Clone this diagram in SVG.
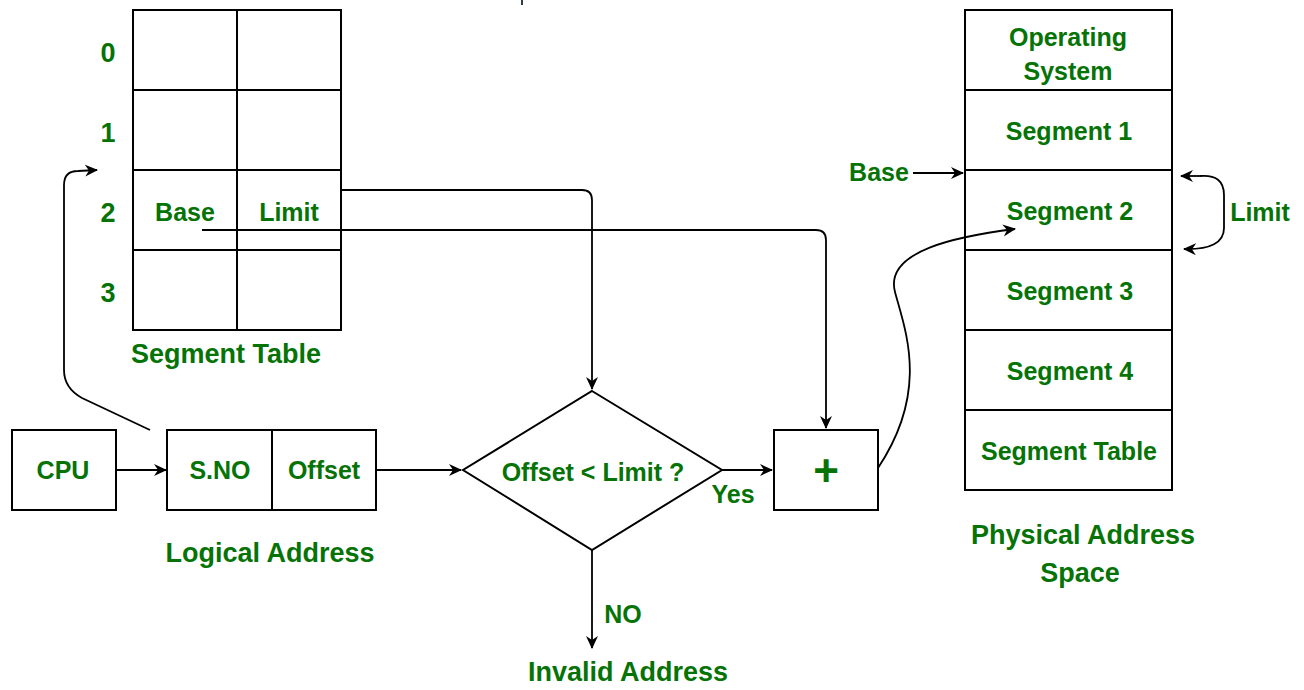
<svg xmlns="http://www.w3.org/2000/svg" width="1304" height="690" viewBox="0 0 1304 690">
<defs>
<marker id="ah" markerWidth="14" markerHeight="14" refX="12" refY="7" orient="auto" markerUnits="userSpaceOnUse">
<path d="M0,1 L13,7 L0,13 L4,7 Z" fill="#000"/>
</marker>
</defs>
<style>
.box{fill:#fff;stroke:#000;stroke-width:2}
.ln{fill:none;stroke:#000;stroke-width:2}
.c{fill:none;stroke:#000;stroke-width:1.8;marker-end:url(#ah)}
.t{font-family:"Liberation Sans",Arial,sans-serif;font-weight:bold;fill:#067306;text-anchor:middle;dominant-baseline:central}
.s{font-size:25px}
.b{font-size:27px}
</style>
<rect width="1304" height="690" fill="#fff"/>
<rect x="521" y="0" width="2" height="5" fill="#2d3e4a"/>

<g id="segment-table">
<rect class="box" x="133" y="10" width="208" height="320"/>
<line class="ln" x1="237" y1="10" x2="237" y2="330"/>
<line class="ln" x1="133" y1="90" x2="341" y2="90"/>
<line class="ln" x1="133" y1="170" x2="341" y2="170"/>
<line class="ln" x1="133" y1="250" x2="341" y2="250"/>
<text class="t b" x="108" y="53">0</text>
<text class="t b" x="108" y="133">1</text>
<text class="t b" x="108" y="213">2</text>
<text class="t b" x="108" y="293">3</text>
<text class="t s" x="185" y="212">Base</text>
<text class="t s" x="289" y="212">Limit</text>
<text class="t b" x="226" y="354">Segment Table</text>
</g>

<g id="cpu">
<rect class="box" x="12" y="430" width="104" height="80"/>
<text class="t s" x="63" y="470">CPU</text>
</g>

<g id="logical-address">
<rect class="box" x="167" y="430" width="209" height="80"/>
<line class="ln" x1="272" y1="430" x2="272" y2="510"/>
<text class="t s" x="220" y="470">S.NO</text>
<text class="t s" x="324" y="470">Offset</text>
<text class="t b" x="270" y="553">Logical Address</text>
</g>

<g id="compare">
<polygon class="box" points="592,391 722,470 592,550 463,470"/>
<text class="t s" x="593" y="472">Offset &lt; Limit ?</text>
<text class="t s" x="733" y="494">Yes</text>
<text class="t s" x="623" y="614">NO</text>
<text class="t b" x="628" y="672">Invalid Address</text>
</g>

<g id="adder">
<rect class="box" x="774" y="430" width="104" height="80"/>
<text class="t" x="826" y="470" style="font-size:44px">+</text>
</g>

<g id="physical-memory">
<rect class="box" x="965" y="10" width="207" height="480"/>
<line class="ln" x1="965" y1="90" x2="1172" y2="90"/>
<line class="ln" x1="965" y1="170" x2="1172" y2="170"/>
<line class="ln" x1="965" y1="250" x2="1172" y2="250"/>
<line class="ln" x1="965" y1="330" x2="1172" y2="330"/>
<line class="ln" x1="965" y1="410" x2="1172" y2="410"/>
<text class="t s" x="1068" y="37">Operating</text>
<text class="t s" x="1068" y="71">System</text>
<text class="t s" x="1069" y="131">Segment 1</text>
<text class="t s" x="1070" y="211">Segment 2</text>
<text class="t s" x="1070" y="291">Segment 3</text>
<text class="t s" x="1070" y="371">Segment 4</text>
<text class="t s" x="1069" y="451">Segment Table</text>
<text class="t b" x="1083" y="535">Physical Address</text>
<text class="t b" x="1080" y="573">Space</text>
<text class="t s" x="879" y="172">Base</text>
<text class="t s" x="1260" y="212">Limit</text>
</g>

<g id="connectors">
<path class="c" d="M116,470 L166,470"/>
<path class="c" d="M376,470 L461,470"/>
<path class="c" d="M722,470 L772,470"/>
<path class="c" d="M592,550 L592,648"/>
<path class="c" d="M341,190 L582,190 Q592,190 592,200 L592,389"/>
<path class="c" d="M202,230 L816,230 Q826,230 826,240 L826,428"/>
<path class="c" d="M150,430 L82,398 Q64,388 64,370 L64,185 Q64,171 78,171 L97,170"/>
<path class="c" d="M878,468 C930,390 905,330 895,292 C884,250 960,236 1015,229"/>
<path class="c" d="M913,173 L963,173"/>
<path class="c" d="M1200,176 Q1224,174 1224,195 L1224,228 Q1224,250 1184,249"/>
<path class="c" d="M1200,176 L1181,176"/>
</g>
</svg>
